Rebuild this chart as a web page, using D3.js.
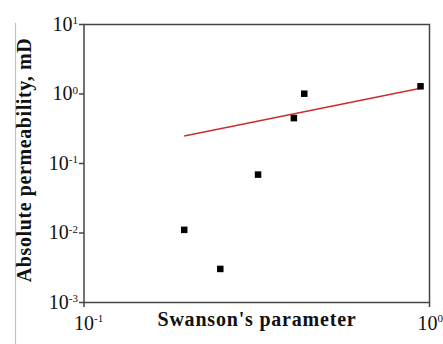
<!DOCTYPE html>
<html><head><meta charset="utf-8">
<script src="https://cdn.jsdelivr.net/npm/d3@7/dist/d3.min.js"></script>
<style>
body{margin:0;background:#fff;}
svg{display:block;}
text{font-family:"Liberation Serif","Times New Roman",serif;fill:#111;}
</style></head>
<body>
<svg id="c" width="443" height="344"></svg>
<script>
// Data
const swanson = [0.195, 0.248, 0.319, 0.405, 0.434, 0.942];
const permeability = [0.0111, 0.00304, 0.0692, 0.45, 1.01, 1.29];
const fitX = [0.195, 0.942];
const fitY = [0.248, 1.21];
const yTickExp = [-3, -2, -1, 0, 1];
const xTickExp = [-1, 0];
const xTitle = "Swanson's parameter";
const yTitle = "Absolute permeability, mD";

const svg = d3.select("#c");
const L = 84, R = 429.5, T = 24.5, B = 302.5;
const x = d3.scaleLog().domain([0.1, 1]).range([L, R]);
const y = d3.scaleLog().domain([0.001, 10]).range([B, T]);
const axisColor = "#444";

// faint blue vertical line at left
svg.append("line").attr("x1",15.5).attr("x2",15.5).attr("y1",23).attr("y2",344)
  .attr("stroke","#a9c6e3").attr("stroke-width",1.2);

// frame
svg.append("rect").attr("x",L).attr("y",T).attr("width",R-L).attr("height",B-T)
  .attr("fill","none").attr("stroke",axisColor).attr("stroke-width",1.5);

// y ticks
svg.selectAll(".yt").data(yTickExp).enter().append("line")
  .attr("x1",L-5).attr("x2",L).attr("y1",d=>y(Math.pow(10,d))).attr("y2",d=>y(Math.pow(10,d)))
  .attr("stroke",axisColor).attr("stroke-width",1.5);
// x ticks
svg.selectAll(".xt").data(xTickExp).enter().append("line")
  .attr("x1",d=>x(Math.pow(10,d))).attr("x2",d=>x(Math.pow(10,d))).attr("y1",B).attr("y2",B+4.5)
  .attr("stroke",axisColor).attr("stroke-width",1.5);

// y tick labels
yTickExp.forEach(e=>{
  const t = svg.append("text").attr("x",78).attr("y",y(Math.pow(10,e))+6)
    .attr("text-anchor","end").style("font-size","20px");
  t.append("tspan").text("10");
  t.append("tspan").attr("dy",-6.5).style("font-size","11px").text(e);
});
// x tick labels
xTickExp.forEach(e=>{
  const t = svg.append("text").attr("x",x(Math.pow(10,e))-10 - (e===0?2:0)).attr("y",329.5)
    .style("font-size","20px");
  t.append("tspan").text("10");
  t.append("tspan").attr("dy",-7.5).style("font-size","11px").text(e);
});

// titles
svg.append("text").attr("x",257).attr("y",325.5).attr("text-anchor","middle")
  .style("font-size","20px").style("font-weight","bold").style("letter-spacing","0.8px").text(xTitle);
svg.append("text").attr("transform","translate(31,160) rotate(-90)").attr("text-anchor","middle")
  .style("font-size","20px").style("font-weight","bold").style("letter-spacing","0.6px").text(yTitle);

// fit line
svg.append("path").datum(fitX.map((v,i)=>[v,fitY[i]]))
  .attr("d", d3.line().x(d=>x(d[0])).y(d=>y(d[1])))
  .attr("fill","none").attr("stroke","#cc2e2e").attr("stroke-width",1.5);

// points
const s = 6.5;
svg.selectAll(".pt").data(swanson.map((v,i)=>[v,permeability[i]])).enter().append("rect")
  .attr("x",d=>x(d[0])-s/2).attr("y",d=>y(d[1])-s/2).attr("width",s).attr("height",s)
  .attr("fill","#000");
</script>
</body></html>
